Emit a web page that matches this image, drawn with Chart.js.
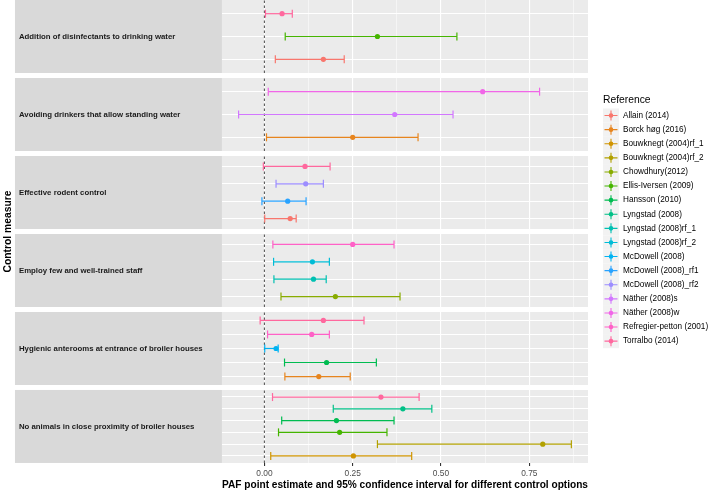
<!DOCTYPE html>
<html>
<head>
<meta charset="utf-8">
<script src="https://cdn.jsdelivr.net/npm/chart.js@4.4.0/dist/chart.umd.min.js"></script>
<style>
  html, body { margin: 0; padding: 0; background: #ffffff; }
</style>
</head>
<body>
<canvas id="paf" width="709" height="490"></canvas>
<script>
// facet rows, top to bottom
const measures = [
    'Addition of disinfectants to drinking water',
    'Avoiding drinkers that allow standing water',
    'Effective rodent control',
    'Employ few and well-trained staff',
    'Hygienic anterooms at entrance of broiler houses',
    'No animals in close proximity of broiler houses'
];

const references = [
    'Allain (2014)', 'Borck høg (2016)', 'Bouwknegt (2004)rf_1', 'Bouwknegt (2004)rf_2',
    'Chowdhury(2012)', 'Ellis-Iversen (2009)', 'Hansson (2010)', 'Lyngstad (2008)',
    'Lyngstad (2008)rf_1', 'Lyngstad (2008)rf_2', 'McDowell (2008)', 'McDowell (2008)_rf1',
    'McDowell (2008)_rf2', 'Näther (2008)s', 'Näther (2008)w', 'Refregier-petton (2001)',
    'Torralbo (2014)'
];

// one entry per estimate (index into measures / references)
const rowMeasure = [0, 0, 0, 1, 1, 1, 2, 2, 2, 2, 3, 3, 3, 3, 4, 4, 4, 4, 4, 5, 5, 5, 5, 5, 5];
const rowRef     = [0, 5, 16, 1, 13, 14, 0, 11, 12, 16, 4, 8, 9, 15, 1, 6, 10, 15, 16, 2, 3, 5, 6, 7, 16];
const estimate = [0.167, 0.320, 0.050, 0.250, 0.369, 0.618, 0.073, 0.066, 0.117, 0.115,
                  0.201, 0.139, 0.136, 0.250, 0.154, 0.176, 0.033, 0.134, 0.167,
                  0.252, 0.788, 0.213, 0.204, 0.392, 0.330];
const lower    = [0.031, 0.059, 0.003, 0.006, -0.073, 0.011, 0.001, -0.007, 0.033, -0.003,
                  0.047, 0.027, 0.026, 0.024, 0.058, 0.057, 0.001, 0.009, -0.012,
                  0.018, 0.320, 0.040, 0.049, 0.195, 0.023];
const upper    = [0.226, 0.545, 0.079, 0.435, 0.534, 0.779, 0.090, 0.118, 0.167, 0.186,
                  0.384, 0.175, 0.184, 0.367, 0.243, 0.317, 0.039, 0.184, 0.282,
                  0.417, 0.869, 0.347, 0.367, 0.474, 0.438];

const xMajor = [0, 0.25, 0.5, 0.75];

// ggplot default hue palette (hcl, c = 100, l = 65)
function hueColour(h) {
    const L = 65, C = 100, hr = h * Math.PI / 180;
    const Xn = 95.047, Yn = 100, Zn = 108.883;
    const den = Xn + 15 * Yn + 3 * Zn;
    const un = 4 * Xn / den, vn = 9 * Yn / den;
    const Y = Yn * Math.pow((L + 16) / 116, 3);
    const up = C * Math.cos(hr) / (13 * L) + un;
    const vp = C * Math.sin(hr) / (13 * L) + vn;
    const X = Y * 9 * up / (4 * vp);
    const Z = Y * (12 - 3 * up - 20 * vp) / (4 * vp);
    const lin = [
        3.2404542 * X - 1.5371385 * Y - 0.4985314 * Z,
        -0.9692660 * X + 1.8760108 * Y + 0.0415560 * Z,
        0.0556434 * X - 0.2040259 * Y + 1.0572252 * Z
    ].map(v => v / 100);
    const rgb = lin.map(v => {
        const g = v <= 0.0031308 ? 12.92 * v : 1.055 * Math.pow(v, 1 / 2.4) - 0.055;
        return Math.round(Math.min(1, Math.max(0, g)) * 255);
    });
    return 'rgb(' + rgb.join(',') + ')';
}
const colours = references.map((_, i) => hueColour(15 + i * 360 / references.length));

// slot of each row inside its panel (first reference at the bottom)
const panelSize = measures.map((_, m) => rowMeasure.filter(k => k === m).length);
const rowSlot = rowMeasure.map((m, r) => rowMeasure.slice(0, r).filter(k => k === m).length);

const dataMin = Math.min(...lower), dataMax = Math.max(...upper);
const xPad = (dataMax - dataMin) * 0.05;
const gridValues = xMajor.flatMap(v => [v - 0.125, v, v + 0.125])
    .filter((v, i, a) => a.indexOf(v) === i && v >= dataMin - xPad && v <= dataMax + xPad)
    .sort((a, b) => a - b);
const isMajor = v => Math.abs(v * 4 - Math.round(v * 4)) < 1e-9;

const STRIP_W = 207;

const datasets = [];
measures.forEach((_, m) => {
    datasets.push({
        yAxisID: 'p' + m,
        data: [{ x: 0, y: -0.6 }, { x: 0, y: panelSize[m] - 0.4 }],
        showLine: true,
        borderColor: '#333333',
        borderWidth: 0.9,
        borderDash: [2.5, 2.5],
        pointRadius: 0,
        order: 5
    });
});
rowMeasure.forEach((m, r) => {
    const c = colours[rowRef[r]];
    const y = rowSlot[r];
    datasets.push({
        yAxisID: 'p' + m,
        data: [{ x: lower[r], y: y }, { x: upper[r], y: y }],
        showLine: true,
        borderColor: c,
        borderWidth: 1.2,
        pointStyle: 'line',
        pointRotation: 90,
        pointRadius: 4,
        pointBorderColor: c,
        pointBorderWidth: 1.2,
        order: 1
    });
    datasets.push({
        yAxisID: 'p' + m,
        data: [{ x: estimate[r], y: y }],
        pointStyle: 'circle',
        pointRadius: 2.6,
        pointBackgroundColor: c,
        pointBorderColor: c,
        pointBorderWidth: 0,
        order: 0
    });
});

const scales = {
    x: {
        type: 'linear',
        position: 'bottom',
        min: dataMin - xPad,
        max: dataMax + xPad,
        afterBuildTicks: s => { s.ticks = gridValues.map(v => ({ value: v })); },
        grid: {
            color: '#ffffff',
            lineWidth: c => (c.tick && isMajor(c.tick.value) ? 1.1 : 0.5),
            tickColor: c => (c.tick && isMajor(c.tick.value) ? '#333333' : 'rgba(0,0,0,0)'),
            tickLength: 3
        },
        border: { display: false },
        ticks: {
            autoSkip: false,
            maxRotation: 0,
            padding: 3,
            color: '#4D4D4D',
            font: { size: 8.4, lineHeight: 1.2 },
            callback: v => (isMajor(v) ? v.toFixed(2) : '')
        },
        title: {
            display: true,
            text: 'PAF point estimate and 95% confidence interval for different control options',
            color: '#000000',
            font: { size: 10.7, weight: 'bold', lineHeight: 0.5 },
            padding: { top: 0, bottom: 2.6 }
        }
    }
};
// left stacks are laid out from the last key upwards, so add the bottom panel first
for (let m = measures.length - 1; m >= 0; m--) {
    const n = panelSize[m];
    scales['p' + m] = {
        type: 'linear',
        position: 'left',
        stack: 'panels',
        stackWeight: 73,
        min: -0.6,
        max: n - 0.4,
        afterBuildTicks: s => { s.ticks = Array.from({ length: n }, (_, i) => ({ value: i })); },
        afterFit: s => { s.width = STRIP_W; },
        ticks: { display: false },
        grid: { color: '#ffffff', lineWidth: 1.1, drawTicks: false },
        border: { display: false }
    };
    if (m > 0) {
        scales['gap' + m] = {
            type: 'linear',
            position: 'left',
            stack: 'panels',
            stackWeight: 5,
            afterFit: s => { s.width = STRIP_W; },
            ticks: { display: false },
            grid: { display: false },
            border: { display: false }
        };
    }
}

// grey panels and the facet strips on the left
const panelPlugin = {
    id: 'panels',
    beforeDraw(chart) {
        const { ctx, chartArea } = chart;
        ctx.save();
        measures.forEach((label, m) => {
            const s = chart.scales['p' + m];
            ctx.fillStyle = '#D9D9D9';
            ctx.fillRect(s.left, s.top, s.right - s.left, s.bottom - s.top);
            ctx.fillStyle = '#EBEBEB';
            ctx.fillRect(chartArea.left, s.top, chartArea.right - chartArea.left, s.bottom - s.top);
            ctx.fillStyle = '#1A1A1A';
            ctx.font = 'bold 7.8px "Liberation Sans", Arial, sans-serif';
            ctx.textAlign = 'left';
            ctx.textBaseline = 'middle';
            ctx.fillText(label, s.left + 4, (s.top + s.bottom) / 2);
        });
        ctx.restore();
    },
    beforeDatasetsDraw(chart) {
        // blank the gaps between panels
        const { ctx, chartArea } = chart;
        ctx.save();
        ctx.fillStyle = '#ffffff';
        for (let m = 1; m < measures.length; m++) {
            const g = chart.scales['gap' + m];
            ctx.fillRect(chartArea.left, g.top, chartArea.right - chartArea.left, g.bottom - g.top);
        }
        ctx.restore();
    }
};

// ggplot style legend: grey keys with a point-range cross
const legendPlugin = {
    id: 'refLegend',
    afterDraw(chart) {
        const { ctx, chartArea } = chart;
        const x0 = chartArea.right + 15;
        const top = chartArea.top + 93;
        const step = 14.1;
        ctx.save();
        ctx.textAlign = 'left';
        ctx.textBaseline = 'middle';
        ctx.fillStyle = '#000000';
        ctx.font = '10.3px "Liberation Sans", Arial, sans-serif';
        ctx.fillText('Reference', x0, top + 7);
        references.forEach((name, i) => {
            const y = top + 15.5 + i * step;
            const cy = y + step / 2;
            ctx.fillStyle = '#F2F2F2';
            ctx.fillRect(x0, y, 16, step);
            ctx.strokeStyle = colours[i];
            ctx.lineWidth = 1.1;
            ctx.beginPath();
            ctx.moveTo(x0 + 1.5, cy);
            ctx.lineTo(x0 + 14.5, cy);
            ctx.moveTo(x0 + 8, cy - 5);
            ctx.lineTo(x0 + 8, cy + 5);
            ctx.stroke();
            ctx.fillStyle = colours[i];
            ctx.beginPath();
            ctx.arc(x0 + 8, cy, 2.3, 0, Math.PI * 2);
            ctx.fill();
            ctx.fillStyle = '#000000';
            ctx.font = '8.2px "Liberation Sans", Arial, sans-serif';
            ctx.fillText(name, x0 + 20, cy);
        });
        ctx.restore();
    }
};

Chart.defaults.font.family = '"Liberation Sans", Arial, sans-serif';

new Chart(document.getElementById('paf').getContext('2d'), {
    type: 'scatter',
    data: { datasets: datasets },
    options: {
        responsive: false,
        animation: false,
        events: [],
        layout: { autoPadding: false, padding: { left: 0, right: 121, top: 0, bottom: 0 } },
        scales: scales,
        plugins: {
            legend: { display: false },
            tooltip: { enabled: false },
            title: {
                display: true,
                position: 'left',
                fullSize: false,
                text: 'Control measure',
                color: '#000000',
                font: { size: 10.3, weight: 'bold' },
                padding: { top: 2, bottom: 0.6 }
            }
        }
    },
    plugins: [panelPlugin, legendPlugin]
});
</script>
</body>
</html>
